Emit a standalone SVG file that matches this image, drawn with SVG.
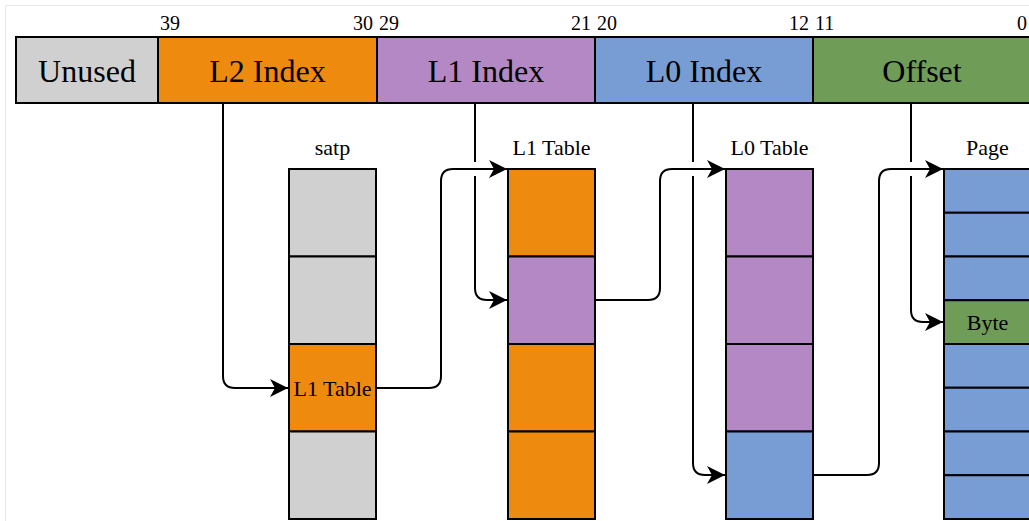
<svg xmlns="http://www.w3.org/2000/svg" width="1029" height="521" viewBox="0 0 1029 521">
  <style>
    .cell { stroke: #000; stroke-width: 2; }
    .gray { fill: #d0d0d0; }
    .orange { fill: #ee8b0e; }
    .purple { fill: #b388c4; }
    .blue { fill: #789dd4; }
    .green { fill: #6f9c57; }
    text { font-family: "Liberation Serif", "Times New Roman", serif; fill: #000; }
    .field { font-size: 32px; text-anchor: middle; }
    .bit { font-size: 20px; }
    .end { text-anchor: end; }
    .title { font-size: 22px; text-anchor: middle; }
    .entry { font-size: 22px; text-anchor: middle; }
    .wire { fill: none; stroke: #000; stroke-width: 2; }
  </style>
  <defs>
    <marker id="arrow" markerUnits="userSpaceOnUse" viewBox="0 0 18 18" markerWidth="18" markerHeight="18" refX="18" refY="9" orient="auto">
      <path d="M0,0 L18,9 L0,18 L5,9 Z" fill="#000"/>
    </marker>
  </defs>

  <rect width="1029" height="521" fill="#fff"/>
  <path d="M5.5,521 V5.5 H1029" fill="none" stroke="#e6e6e6" stroke-width="1"/>

  <!-- virtual address fields -->
  <g id="address">
    <rect class="cell gray" x="16" y="37" width="142" height="66"/>
    <rect class="cell orange" x="158" y="37" width="219" height="66"/>
    <rect class="cell purple" x="377" y="37" width="218" height="66"/>
    <rect class="cell blue" x="595" y="37" width="218" height="66"/>
    <rect class="cell green" x="813" y="37" width="218" height="66"/>
    <text class="field" x="87" y="82">Unused</text>
    <text class="field" x="267.5" y="82">L2 Index</text>
    <text class="field" x="486" y="82">L1 Index</text>
    <text class="field" x="704" y="82">L0 Index</text>
    <text class="field" x="922" y="82">Offset</text>
    <text class="bit" x="160" y="30">39</text>
    <text class="bit end" x="373" y="30">30</text>
    <text class="bit" x="379" y="30">29</text>
    <text class="bit end" x="591" y="30">21</text>
    <text class="bit" x="597" y="30">20</text>
    <text class="bit end" x="809" y="30">12</text>
    <text class="bit" x="815" y="30">11</text>
    <text class="bit end" x="1027" y="30">0</text>
  </g>

  <!-- satp register -->
  <g id="satp">
    <text class="title" x="332.5" y="155">satp</text>
    <rect class="cell gray" x="289" y="169" width="87" height="87.5"/>
    <rect class="cell gray" x="289" y="256.5" width="87" height="87.5"/>
    <rect class="cell orange" x="289" y="344" width="87" height="87.5"/>
    <rect class="cell gray" x="289" y="431.5" width="87" height="87.5"/>
    <text class="entry" x="332.5" y="395.5">L1 Table</text>
  </g>

  <!-- level 1 table -->
  <g id="l1-table">
    <text class="title" x="551.5" y="155">L1 Table</text>
    <rect class="cell orange" x="508" y="169" width="87" height="87.5"/>
    <rect class="cell purple" x="508" y="256.5" width="87" height="87.5"/>
    <rect class="cell orange" x="508" y="344" width="87" height="87.5"/>
    <rect class="cell orange" x="508" y="431.5" width="87" height="87.5"/>
  </g>

  <!-- level 0 table -->
  <g id="l0-table">
    <text class="title" x="769.5" y="155">L0 Table</text>
    <rect class="cell purple" x="726" y="169" width="87" height="87.5"/>
    <rect class="cell purple" x="726" y="256.5" width="87" height="87.5"/>
    <rect class="cell purple" x="726" y="344" width="87" height="87.5"/>
    <rect class="cell blue" x="726" y="431.5" width="87" height="87.5"/>
  </g>

  <!-- physical page -->
  <g id="page">
    <text class="title" x="987.5" y="155">Page</text>
    <rect class="cell blue" x="944" y="169" width="87" height="43.75"/>
    <rect class="cell blue" x="944" y="212.75" width="87" height="43.75"/>
    <rect class="cell blue" x="944" y="256.5" width="87" height="43.75"/>
    <rect class="cell green" x="944" y="300.25" width="87" height="43.75"/>
    <rect class="cell blue" x="944" y="344" width="87" height="43.75"/>
    <rect class="cell blue" x="944" y="387.75" width="87" height="43.75"/>
    <rect class="cell blue" x="944" y="431.5" width="87" height="43.75"/>
    <rect class="cell blue" x="944" y="475.25" width="87" height="43.75"/>
    <text class="entry" x="987.5" y="329.5">Byte</text>
  </g>

  <!-- walk connectors -->
  <g id="connectors">
    <path class="wire" marker-end="url(#arrow)" d="M223,103 V376 Q223,388 235,388 H288"/>
    <path class="wire" marker-end="url(#arrow)" d="M377,388 H429 Q441,388 441,376 V181 Q441,169 453,169 H507"/>
    <path class="wire" marker-end="url(#arrow)" d="M475,103 V162 M475,176 V288 Q475,300 487,300 H507"/>
    <path class="wire" marker-end="url(#arrow)" d="M596,300 H648 Q660,300 660,288 V181 Q660,169 672,169 H725"/>
    <path class="wire" marker-end="url(#arrow)" d="M693,103 V162 M693,176 V463 Q693,475 705,475 H725"/>
    <path class="wire" marker-end="url(#arrow)" d="M814,475 H867 Q879,475 879,463 V181 Q879,169 891,169 H943"/>
    <path class="wire" marker-end="url(#arrow)" d="M911,103 V162 M911,176 V310 Q911,322 923,322 H943"/>
  </g>
</svg>
